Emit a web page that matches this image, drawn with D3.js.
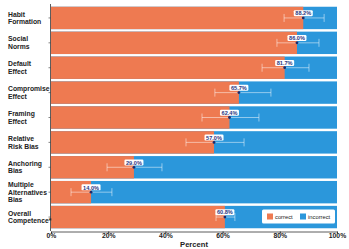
<!DOCTYPE html>
<html lang="en">
<head>
    <meta charset="UTF-8">
    <title>Bias competence</title>
    <script src="https://d3js.org/d3.v7.min.js"></script>
    <style>
        body { margin: 0; background: #fff; font-family: "Liberation Sans", Arial, sans-serif; }
        .cat text { font-size: 6.8px; font-weight: bold; fill: #222; }
        .xaxis text { font-size: 6.8px; font-weight: bold; fill: #222; }
    </style>
</head>
<body>
<svg width="349" height="249"></svg>
<script>
    // categories and values (percent correct)
    const categories = ["Habit Formation", "Social Norms", "Default Effect", "Compromise Effect",
        "Framing Effect", "Relative Risk Bias", "Anchoring Bias", "Multiple Alternatives Bias", "Overall Competence*"];
    const catLines = [["Habit", "Formation"], ["Social", "Norms"], ["Default", "Effect"], ["Compromise", "Effect"],
        ["Framing", "Effect"], ["Relative", "Risk Bias"], ["Anchoring", "Bias"], ["Multiple", "Alternatives", "Bias"],
        ["Overall", "Competence*"]];
    const correct = [88.2, 86.0, 81.7, 65.7, 62.4, 57.0, 29.0, 14.0, 60.8];
    const ciLow = [81.5, 79.0, 73.8, 57.3, 52.8, 47.2, 19.6, 7.0, 57.7];
    const ciHigh = [95.5, 93.7, 90.2, 76.9, 72.7, 67.5, 38.8, 21.3, 64.3];
    const xTicks = [0, 20, 40, 60, 80, 100];

    const orange = "#ee7a51", blue = "#2b97db";

    const svg = d3.select("svg");
    const x = d3.scaleLinear().domain([0, 100]).range([51, 337]);
    const y = d3.scaleBand().domain(categories).range([5.5, 229.5]).paddingInner(0.1).paddingOuter(0.05);

    const rows = categories.map((c, i) => ({c, v: correct[i], lo: ciLow[i], hi: ciHigh[i], lines: catLines[i]}));

    // incorrect (full bar) then correct on top
    svg.selectAll(".inc").data(rows).enter().append("rect")
        .attr("x", x(0)).attr("y", d => y(d.c))
        .attr("width", x(100) - x(0)).attr("height", y.bandwidth())
        .attr("fill", blue);
    svg.selectAll(".cor").data(rows).enter().append("rect")
        .attr("x", x(0)).attr("y", d => y(d.c))
        .attr("width", d => x(d.v) - x(0)).attr("height", y.bandwidth())
        .attr("fill", orange);

    // error bars
    const eb = svg.selectAll(".eb").data(rows).enter().append("g")
        .attr("stroke", "#fff").attr("stroke-opacity", 0.55).attr("stroke-width", 0.9);
    eb.append("line").attr("x1", d => x(d.lo)).attr("x2", d => x(d.hi))
        .attr("y1", d => y(d.c) + y.bandwidth() / 2).attr("y2", d => y(d.c) + y.bandwidth() / 2);
    eb.append("line").attr("x1", d => x(d.lo)).attr("x2", d => x(d.lo))
        .attr("y1", d => y(d.c) + y.bandwidth() / 2 - 4).attr("y2", d => y(d.c) + y.bandwidth() / 2 + 4);
    eb.append("line").attr("x1", d => x(d.hi)).attr("x2", d => x(d.hi))
        .attr("y1", d => y(d.c) + y.bandwidth() / 2 - 4).attr("y2", d => y(d.c) + y.bandwidth() / 2 + 4);

    svg.selectAll(".dot").data(rows).enter().append("circle")
        .attr("cx", d => x(d.v)).attr("cy", d => y(d.c) + y.bandwidth() / 2)
        .attr("r", 1.4).attr("fill", "#1d2a6b");

    // value labels
    const lab = svg.selectAll(".lab").data(rows).enter().append("g")
        .attr("transform", d => `translate(${x(d.v)},${y(d.c) + y.bandwidth() / 2 - 4.5})`);
    lab.append("rect").attr("x", -9.5).attr("y", -3.3).attr("width", 19).attr("height", 6)
        .attr("rx", 1.2).attr("fill", "#fff");
    lab.append("text").attr("text-anchor", "middle").attr("y", 1.9)
        .attr("font-size", "5.6px").attr("font-weight", "bold").attr("fill", "#2a3580")
        .text(d => d.v.toFixed(1) + "%");

    // left axis
    svg.append("line").attr("x1", x(0) - 0.5).attr("x2", x(0) - 0.5).attr("y1", 4).attr("y2", 231)
        .attr("stroke", "#333").attr("stroke-width", 0.8);
    svg.selectAll(".ytick").data(rows).enter().append("line")
        .attr("x1", x(0) - 2.5).attr("x2", x(0) - 0.5)
        .attr("y1", d => y(d.c) + y.bandwidth() / 2).attr("y2", d => y(d.c) + y.bandwidth() / 2)
        .attr("stroke", "#333").attr("stroke-width", 0.6);

    const cat = svg.append("g").attr("class", "cat");
    rows.forEach(d => {
        const n = d.lines.length;
        const cy = y(d.c) + y.bandwidth() / 2;
        const t = cat.append("text").attr("x", 8);
        d.lines.forEach((l, k) => {
            t.append("tspan").attr("x", 8).attr("y", cy + (k - (n - 1) / 2) * 7.6 + 2.4).text(l);
        });
    });

    // bottom axis
    const xa = svg.append("g").attr("class", "xaxis").attr("transform", "translate(0,231.5)")
        .call(d3.axisBottom(x).tickValues(xTicks).tickFormat(d => d + "%").tickSize(2).tickSizeOuter(0));
    xa.select(".domain").attr("stroke", "#333").attr("stroke-width", 0.8);
    xa.selectAll(".tick line").attr("stroke", "#333");
    xa.selectAll("text").attr("dy", "0.6em").attr("y", 2.5);

    svg.append("text").attr("x", (x(0) + x(100)) / 2).attr("y", 247)
        .attr("text-anchor", "middle").attr("font-size", "7.6px").attr("font-weight", "bold")
        .attr("fill", "#222").text("Percent");

    // legend
    const lg = svg.append("g").attr("transform", "translate(262,209.5)");
    lg.append("rect").attr("width", 73).attr("height", 14).attr("rx", 1.5).attr("fill", "#fff");
    const items = [["correct", orange, 5], ["incorrect", blue, 38]];
    items.forEach(([name, col, ox]) => {
        lg.append("rect").attr("x", ox).attr("y", 4).attr("width", 6).attr("height", 6).attr("fill", col);
        lg.append("text").attr("x", ox + 8).attr("y", 9.3).attr("font-size", "5.8px")
            .attr("fill", "#222").text(name);
    });
</script>
</body>
</html>
